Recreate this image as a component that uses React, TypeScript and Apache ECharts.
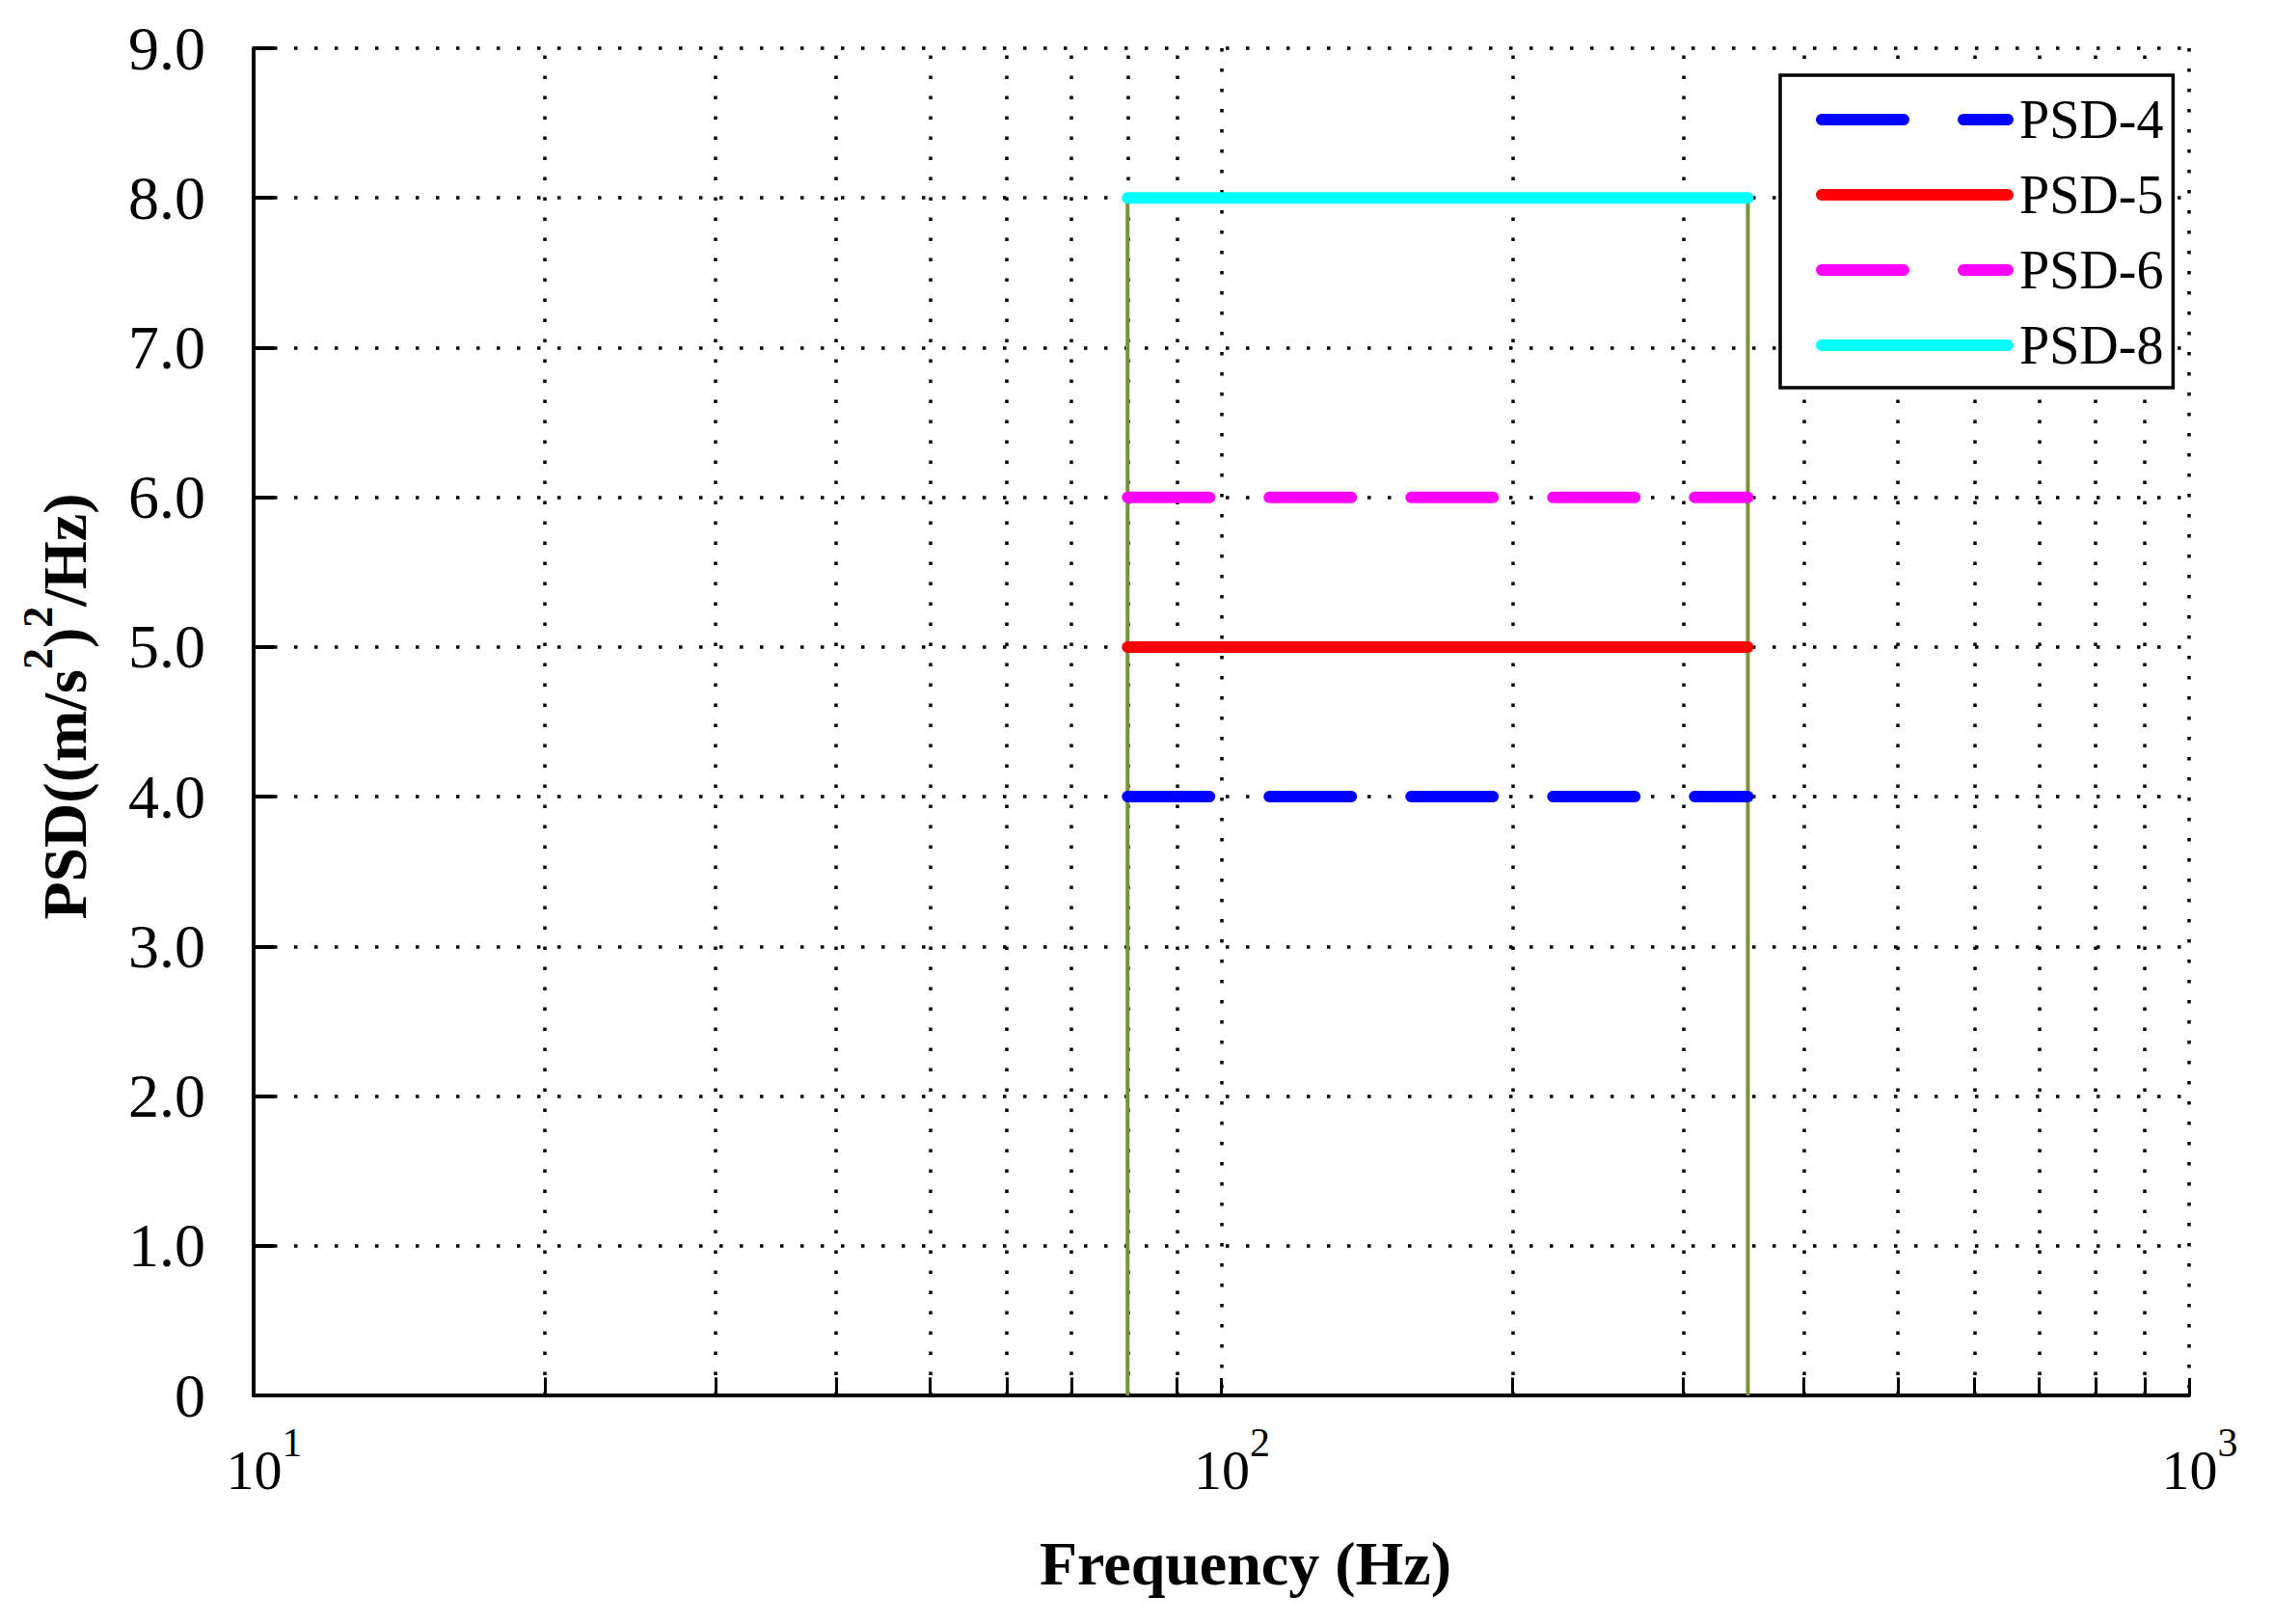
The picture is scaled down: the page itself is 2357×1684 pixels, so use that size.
import React, { useEffect, useRef } from 'react';
import * as echarts from 'echarts';

// ---- data ----
const seriesNames = ['PSD-4', 'PSD-5', 'PSD-6', 'PSD-8'];
const psdLevels = [4.0, 5.0, 6.0, 8.0];
const seriesColors = ['#0000FF', '#FF0000', '#FF00FF', '#00FFFF'];
const seriesDashed = [true, false, true, false];
const bandFreqs = [80, 350];
const edgeColor = '#77933C';
const minorFreqs = [20, 30, 40, 50, 60, 70, 80, 90, 200, 300, 400, 500, 600, 700, 800, 900];
const xRange = [10, 1000];
const yRange = [0, 9];

const SERIF = "'Liberation Serif', 'Times New Roman', serif";
const DASH = [85, 62];
const LINE_W = 12;

export default function App() {
  const ref = useRef<HTMLDivElement>(null);

  useEffect(() => {
    if (!ref.current) return;
    const chart = echarts.init(ref.current, undefined, { renderer: 'svg' });
    const dotted = { color: '#000', width: 3.5, type: [3.5, 17.5] as any, cap: 'butt' as any };
    const topLevel = Math.max(...psdLevels);

    const mainSeries = seriesNames.map((name, i) => ({
      name,
      type: 'line',
      data: bandFreqs.map((f) => [f, psdLevels[i]]),
      symbol: 'none',
      showSymbol: false,
      z: 4,
      lineStyle: {
        color: seriesColors[i],
        width: LINE_W,
        type: seriesDashed[i] ? DASH : 'solid',
        cap: 'round',
      },
      itemStyle: { color: seriesColors[i] },
    }));

    const edgeSeries = bandFreqs.map((f, k) => ({
      name: 'edge' + k,
      type: 'line',
      data: [[f, 0], [f, topLevel]],
      symbol: 'none',
      showSymbol: false,
      z: 3,
      lineStyle: { color: edgeColor, width: 4 },
      markLine: k === 0
        ? {
            silent: true,
            symbol: 'none',
            z: 1,
            label: { show: false },
            animation: false,
            data: [
              ...minorFreqs.map((m) => ({ xAxis: m, lineStyle: dotted })),
              ...minorFreqs.map((m) => [
                { coord: [m, 0], lineStyle: { color: '#000', width: 3, type: 'solid' } },
                { coord: [m, 0.12] },
              ]),
            ],
          }
        : undefined,
    }));

    chart.setOption({
      animation: false,
      backgroundColor: '#fff',
      grid: { left: 263, right: 87, top: 50, bottom: 237, containLabel: false },
      legend: {
        data: seriesNames.map((name, i) => ({
          name,
          lineStyle: {
            color: seriesColors[i],
            width: LINE_W,
            type: seriesDashed[i] ? DASH : 'solid',
            cap: 'round',
          },
          itemStyle: { opacity: 0, color: 'transparent', borderWidth: 0 },
        })),
        orient: 'vertical',
        left: 1846,
        top: 78,
        padding: [18, 10, 16, 37],
        itemWidth: 193,
        itemHeight: 20,
        itemGap: 22,
        borderColor: '#000',
        borderWidth: 3.5,
        backgroundColor: '#fff',
        itemStyle: { opacity: 0, color: 'transparent', borderWidth: 0 },
        textStyle: {
          fontFamily: SERIF,
          fontSize: 56,
          color: '#000',
          lineHeight: 56,
          padding: [0, 0, 0, 7],
        },
      },
      xAxis: {
        type: 'log',
        logBase: 10,
        min: xRange[0],
        max: xRange[1],
        name: 'Frequency (Hz)',
        nameLocation: 'middle',
        nameGap: 142,
        nameTextStyle: {
          fontFamily: SERIF,
          fontSize: 64,
          fontWeight: 'bold',
          color: '#000',
          padding: [0, 0, 0, 50],
        },
        axisLine: { show: true, lineStyle: { color: '#000', width: 4 } },
        axisTick: { show: true, inside: true, length: 18, lineStyle: { color: '#000', width: 3 } },
        splitLine: { show: true, lineStyle: dotted },
        axisLabel: {
          margin: 28,
          formatter: (v: number) => `{b|10}{s|${Math.round(Math.log10(v))}}`,
          rich: {
            b: { fontFamily: SERIF, fontSize: 58, color: '#000', verticalAlign: 'bottom', padding: [20, 0, 0, 22] },
            s: { fontFamily: SERIF, fontSize: 42, color: '#000', verticalAlign: 'top' },
          },
        },
      },
      yAxis: {
        type: 'value',
        min: yRange[0],
        max: yRange[1],
        interval: 1,
        name: '{a|PSD((m/s}{s|2}{a|)}{s|2}{a|/Hz)}',
        nameLocation: 'middle',
        nameRotate: 90,
        nameGap: 164,
        nameTextStyle: {
          padding: [0, 0, 0, 32],
          rich: {
            a: { fontFamily: SERIF, fontSize: 64, fontWeight: 'bold', color: '#000', verticalAlign: 'bottom', padding: [18, 0, 0, 0] },
            s: { fontFamily: SERIF, fontSize: 44, fontWeight: 'bold', color: '#000', verticalAlign: 'top' },
          },
        },
        axisLine: { show: true, lineStyle: { color: '#000', width: 4 } },
        axisTick: { show: true, inside: true, length: 21, lineStyle: { color: '#000', width: 4 } },
        splitLine: { show: true, lineStyle: dotted },
        axisLabel: {
          margin: 50,
          fontFamily: SERIF,
          fontSize: 64,
          color: '#000',
          formatter: (v: number) => (v === 0 ? '0' : v.toFixed(1)),
        },
      },
      series: [...edgeSeries, ...mainSeries],
    });
    return () => chart.dispose();
  }, []);

  return (
    <div
      ref={ref}
      style={{ position: 'fixed', left: 0, top: 0, width: 2357, height: 1684, background: '#fff' }}
    />
  );
}
